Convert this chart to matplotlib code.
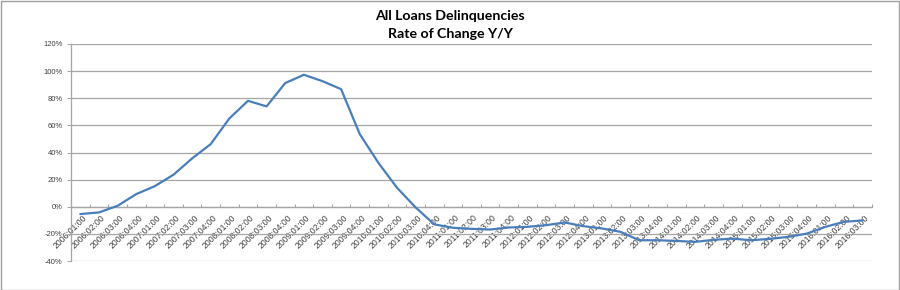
import matplotlib
matplotlib.use("Agg")
import matplotlib.pyplot as plt
import numpy as np
from matplotlib.patches import Rectangle

categories = [
    "2006:01:00", "2006:02:00", "2006:03:00", "2006:04:00",
    "2007:01:00", "2007:02:00", "2007:03:00", "2007:04:00",
    "2008:01:00", "2008:02:00", "2008:03:00", "2008:04:00",
    "2009:01:00", "2009:02:00", "2009:03:00", "2009:04:00",
    "2010:01:00", "2010:02:00", "2010:03:00", "2010:04:00",
    "2011:01:00", "2011:02:00", "2011:03:00", "2011:04:00",
    "2012:01:00", "2012:02:00", "2012:03:00", "2012:04:00",
    "2013:01:00", "2013:02:00", "2013:03:00", "2013:04:00",
    "2014:01:00", "2014:02:00", "2014:03:00", "2014:04:00",
    "2015:01:00", "2015:02:00", "2015:03:00", "2015:04:00",
    "2016:01:00", "2016:02:00", "2016:03:00",
]

rate_of_change = [
    -5.4, -4.2, 0.7, 9.3, 15.2, 23.6, 35.6, 46.2, 65.1, 78.1, 74.0, 91.2,
    97.3, 92.6, 86.7, 53.6, 32.4, 14.0, -0.5, -13.0, -15.5, -16.3, -16.8,
    -15.3, -14.8, -13.6, -11.6, -14.3, -16.0, -18.5, -24.7, -24.7, -25.2,
    -25.9, -24.4, -23.5, -24.7, -23.7, -22.2, -19.8, -14.8, -11.1, -10.1,
]

y_ticks = [-40, -20, 0, 20, 40, 60, 80, 100, 120]
y_tick_labels = ["-40%", "-20%", "0%", "20%", "40%", "60%", "80%", "100%", "120%"]

title_lines = ["All Loans Delinquencies", "Rate of Change Y/Y"]

GRID = "#a6a6a6"
TXT = "#404040"
LINE = "#4a7ebb"

W, H = 900, 290
fig = plt.figure(figsize=(W / 100, H / 100), dpi=100)
fig.patch.set_facecolor("white")

ax = fig.add_axes([71 / W, 1 - 261 / H, (872 - 71) / W, (261 - 44) / H])
xpos = np.arange(len(categories))
ax.plot(xpos, rate_of_change, color=LINE, lw=1.6, solid_joinstyle="round",
        solid_capstyle="round", zorder=3)

ax.set_xlim(-0.5, len(categories) - 0.5)
ax.set_ylim(y_ticks[0], y_ticks[-1])
ax.set_yticks(y_ticks)
ax.set_yticklabels(y_tick_labels, family="Liberation Sans", fontsize=5.5, color=TXT)
ax.yaxis.grid(True, color=GRID, lw=0.9)
ax.set_axisbelow(True)

for s in ["top", "right"]:
    ax.spines[s].set_visible(False)
ax.spines["left"].set_color(GRID)
ax.spines["left"].set_linewidth(0.9)
ax.spines["bottom"].set_position(("data", 0))
ax.spines["bottom"].set_color(GRID)
ax.spines["bottom"].set_linewidth(0.9)

ax.tick_params(axis="y", direction="out", length=3, width=0.8, color=GRID, pad=3)

ax.set_xticks(xpos + 0.1)
ax.set_xticklabels(categories, rotation=45, ha="right", va="top",
                   rotation_mode="anchor", family="Liberation Sans",
                   fontsize=6.2, color=TXT)
ax.set_xticks(np.arange(-0.5, len(categories)), minor=True)
ax.tick_params(axis="x", which="major", length=0, pad=4.5)
ax.tick_params(axis="x", which="minor", direction="in", length=2.5, width=0.8, color=GRID)

fig.text(0.5, 1 - 16 / H, title_lines[0], ha="center", va="center",
         family="Lato", weight="bold", fontsize=10.2, color="black")
fig.text(0.5, 1 - 34.5 / H, title_lines[1], ha="center", va="center",
         family="Lato", weight="bold", fontsize=10.2, color="black")

fig.patches.append(Rectangle((0.5 / W, 0.5 / H), 1 - 1.5 / W, 1 - 1.5 / H,
                             transform=fig.transFigure, fill=False,
                             edgecolor="#a0a0a0", lw=1))

fig.savefig("out.png", dpi=100)
